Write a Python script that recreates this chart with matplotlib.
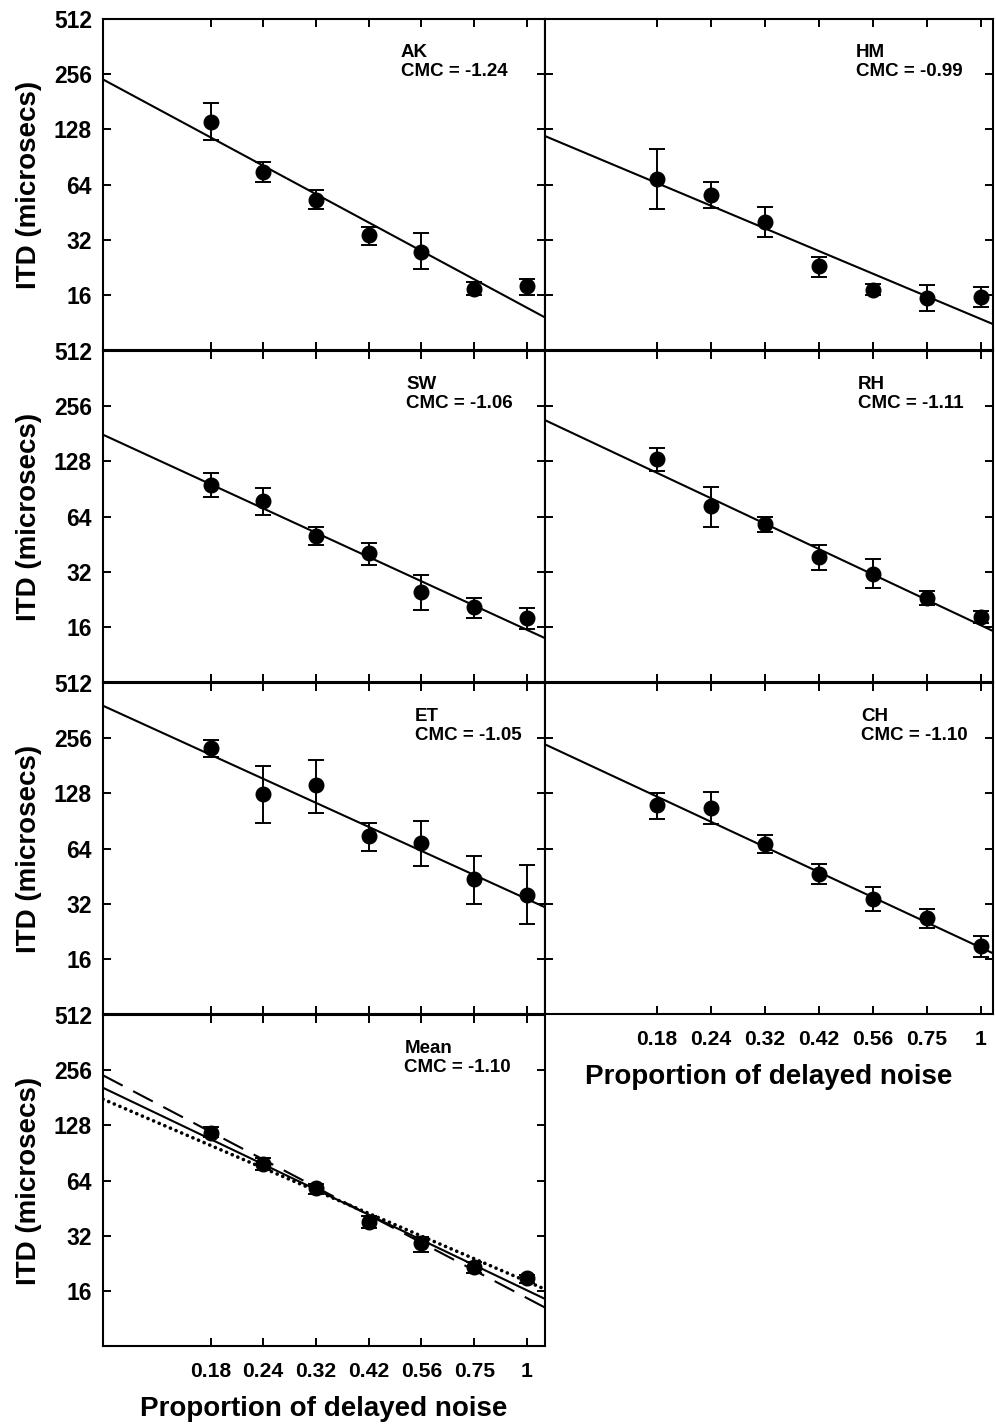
import numpy as np
import matplotlib
matplotlib.use('Agg')
import matplotlib.pyplot as plt
from matplotlib.ticker import FixedLocator, NullLocator

plt.rcParams['font.family'] = ['Liberation Sans', 'DejaVu Sans']
plt.rcParams['font.weight'] = 'bold'
plt.rcParams['lines.scale_dashes'] = False

# ---------------- data ----------------
proportion = [0.178, 0.237, 0.316, 0.422, 0.562, 0.750, 1.0]
x_tick_labels = ['0.18', '0.24', '0.32', '0.42', '0.56', '0.75', '1']
y_ticks = [16, 32, 64, 128, 256, 512]
y_tick_labels = ['16', '32', '64', '128', '256', '512']

listeners = ['AK', 'HM', 'SW', 'RH', 'ET', 'CH', 'Mean']
cmc = [-1.24, -0.99, -1.06, -1.11, -1.05, -1.10, -1.10]
fit_at_1 = [13.6, 11.8, 15.4, 16.3, 33.9, 18.4, 16.1]

itd_AK = [141, 75, 53, 34, 27.5, 17.3, 17.9]
lo_AK = [112, 66, 47, 30, 22, 16, 16]
hi_AK = [178, 85, 60, 37.5, 35, 18.9, 19.6]

itd_HM = [68.8, 56.1, 40.1, 22.9, 17.1, 15.3, 15.6]
lo_HM = [47, 47.8, 33.1, 20.1, 16.05, 13.0, 13.8]
hi_HM = [99.6, 66, 48.2, 25.8, 18.4, 18.1, 17.6]

itd_SW = [95.3, 77.7, 50.3, 40.3, 24.7, 20.5, 17.8]
lo_SW = [81.7, 65, 44.8, 35.0, 19.8, 17.8, 15.6]
hi_SW = [110, 91.9, 55.8, 45.7, 30.5, 23.0, 20.2]

itd_RH = [131.5, 72.6, 58.6, 38.3, 31.1, 23.0, 18.1]
lo_RH = [113, 56, 52.7, 32.7, 25.9, 21.0, 16.8]
hi_RH = [151, 93.2, 63.8, 44.8, 37.7, 25.0, 19.4]

itd_ET = [226, 127.4, 141.4, 74.6, 68.7, 43.4, 35.9]
lo_ET = [203, 88.6, 100.4, 62.3, 51.5, 32, 24.9]
hi_ET = [250, 180.6, 195.7, 88.6, 90.5, 58.4, 51.7]

itd_CH = [110.9, 106.8, 67.8, 46.3, 33.8, 26.7, 18.8]
lo_CH = [92.4, 86.8, 60.4, 40.8, 29.1, 23.7, 16.3]
hi_CH = [129.3, 129.8, 76.2, 52.4, 39.6, 30.0, 21.4]

itd_Mean = [116.6, 79.2, 58.0, 38.1, 29.1, 21.7, 18.8]
lo_Mean = [110, 72.9, 54.3, 35.3, 26.2, 20.0, 17.6]
hi_Mean = [125, 84.9, 61.5, 40.9, 31.6, 23.1, 19.6]

# extra fits drawn in the Mean panel
mean_dashed_cmc = -1.21
mean_dashed_at_1 = 14.6
mean_dotted_cmc = -0.99
mean_dotted_at_1 = 18.0

itd = [itd_AK, itd_HM, itd_SW, itd_RH, itd_ET, itd_CH, itd_Mean]
lo = [lo_AK, lo_HM, lo_SW, lo_RH, lo_ET, lo_CH, lo_Mean]
hi = [hi_AK, hi_HM, hi_SW, hi_RH, hi_ET, hi_CH, hi_Mean]

# ---------------- layout ----------------
W, H = 996, 1427
fig = plt.figure(figsize=(W / 100, H / 100), dpi=100)

col_x = [(103, 545), (545, 993)]
col_xlim = [(0.0989, 1.103), (0.098, 1.066)]
row_top = [19, 351, 683, 1015]
row_h = 331
grid = [(0, 0), (0, 1), (1, 0), (1, 1), (2, 0), (2, 1), (3, 0)]
label_x = [0.674, 0.694, 0.686, 0.699, 0.705, 0.705, 0.682]

for i, name in enumerate(listeners):
    r, c = grid[i]
    x0, x1 = col_x[c]
    top = row_top[r]
    ax = fig.add_axes([x0 / W, 1 - (top + row_h) / H, (x1 - x0) / W, row_h / H])
    ax.set_xscale('log')
    ax.set_yscale('log', base=2)
    ax.set_xlim(*col_xlim[c])
    ax.set_ylim(8, 512)

    xl = np.array(col_xlim[c])
    ax.plot(xl, fit_at_1[i] * xl ** cmc[i], color='black', lw=1.5, zorder=2)
    if name == 'Mean':
        ax.plot(xl, mean_dashed_at_1 * xl ** mean_dashed_cmc, color='black', lw=1.5,
                linestyle=(0, (16, 8.5)), zorder=2)
        ax.plot(xl, mean_dotted_at_1 * xl ** mean_dotted_cmc, color='black', lw=2.6,
                linestyle=(0, (0.1, 4.3)), dash_capstyle='round', zorder=2)

    y = np.array(itd[i])
    yerr = np.vstack([y - np.array(lo[i]), np.array(hi[i]) - y])
    ax.errorbar(proportion, y, yerr=yerr, fmt='o', color='black', ms=10.5,
                elinewidth=1.4, capsize=5.5, capthick=1.4, zorder=3)

    ax.text(label_x[i], 0.925, f"{name}\nCMC = {cmc[i]:.2f}", transform=ax.transAxes,
            ha='left', va='top', fontsize=13.5, weight='bold', linespacing=1.15)

    ax.xaxis.set_major_locator(FixedLocator(proportion))
    ax.xaxis.set_minor_locator(NullLocator())
    ax.yaxis.set_major_locator(FixedLocator(y_ticks))
    ax.yaxis.set_minor_locator(NullLocator())
    ax.tick_params(which='both', direction='in', length=6, width=1.4,
                   top=True, right=True)
    for s in ax.spines.values():
        s.set_linewidth(1.5)

    if c == 0:
        ax.set_yticks(y_ticks, y_tick_labels, fontsize=16.5, fontweight='bold')
        ax.yaxis.set_minor_locator(NullLocator())
        ax.tick_params(axis='y', pad=8)
        fig.text(29 / W, 1 - (top + row_h / 2) / H, 'ITD (microsecs)', rotation=90,
                 ha='center', va='center', fontsize=20, weight='bold')
    else:
        ax.set_yticks(y_ticks, [])
        ax.yaxis.set_minor_locator(NullLocator())

    if name in ('Mean', 'CH'):
        ax.set_xticks(proportion, x_tick_labels, fontsize=15.2, fontweight='bold')
        ax.xaxis.set_minor_locator(NullLocator())
        ax.tick_params(axis='x', pad=11.5)
        ax.set_xlabel('Proportion of delayed noise', fontsize=20, weight='bold',
                      labelpad=11)
    else:
        ax.set_xticks(proportion, [])
        ax.xaxis.set_minor_locator(NullLocator())

fig.savefig('out.png', dpi=100)
